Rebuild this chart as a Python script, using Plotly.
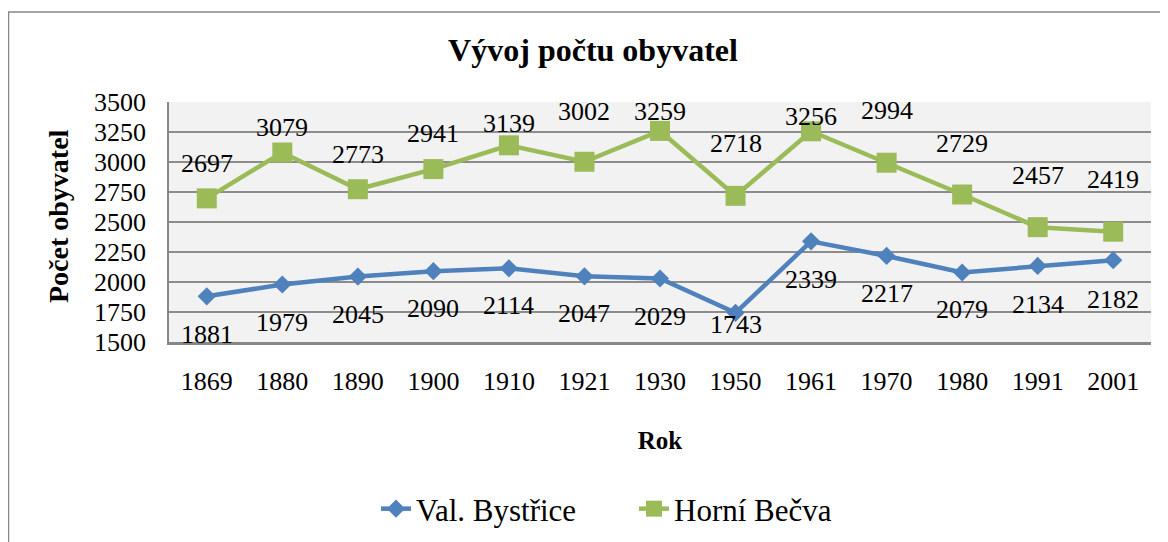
import plotly.graph_objects as go

years = ["1869", "1880", "1890", "1900", "1910", "1921", "1930", "1950", "1961", "1970", "1980", "1991", "2001"]
val_bystrice = [1881, 1979, 2045, 2090, 2114, 2047, 2029, 1743, 2339, 2217, 2079, 2134, 2182]
horni_becva = [2697, 3079, 2773, 2941, 3139, 3002, 3259, 2718, 3256, 2994, 2729, 2457, 2419]
y_ticks = [1500, 1750, 2000, 2250, 2500, 2750, 3000, 3250, 3500]

# label offsets in px (styling, not data)
green_label_shift = [35, 25, 35, 36, 22, 50, 19, 52, 15, 52, 51, 52, 52]
blue_label_shift = [-38, -38, -38, -37, -37, -37, -38, -12, -38, -38, -37, -39, -39]

BLUE = "#4F81BD"
GREEN = "#9BBB59"
FONT = "Liberation Serif"

# page body has an 8px margin; the figure is sized/positioned to compensate
W, H = 1160, 534
PL, PR, PT, PB = 161, 1143, 94, 334  # plot area in figure px
PW, PHt = PR - PL, PB - PT

fig = go.Figure()
fig.add_trace(go.Scatter(
    x=years, y=val_bystrice, name="Val. Bystřice", mode="lines+markers",
    line=dict(color=BLUE, width=4.5),
    marker=dict(symbol="diamond", size=14, color=BLUE),
))
fig.add_trace(go.Scatter(
    x=years, y=horni_becva, name="Horní Bečva", mode="lines+markers",
    line=dict(color=GREEN, width=4.5),
    marker=dict(symbol="square", size=20, color=GREEN),
))

ann = []
for i, (v, s) in enumerate(zip(horni_becva, green_label_shift)):
    ann.append(dict(x=i, y=v, xref="x", yref="y", text=str(v), showarrow=False,
                    yshift=s, font=dict(family=FONT, size=26, color="black")))
for i, (v, s) in enumerate(zip(val_bystrice, blue_label_shift)):
    ann.append(dict(x=i, y=v, xref="x", yref="y", text=str(v), showarrow=False,
                    yshift=s, font=dict(family=FONT, size=26, color="black")))
# y-axis title
ann.append(dict(x=(50 - PL) / PW, y=(PB - 208) / PHt, xref="paper", yref="paper",
                text="Počet obyvatel", textangle=-90, showarrow=False,
                xanchor="center", yanchor="middle",
                font=dict(family=FONT, size=28, weight=700, color="black")))

fig.update_layout(
    width=W, height=H,
    margin=dict(l=PL, r=W - PR, t=PT, b=H - PB, autoexpand=False),
    paper_bgcolor="white", plot_bgcolor="#F2F2F2",
    font=dict(family=FONT, color="black", size=26),
    title=dict(text="Vývoj počtu obyvatel", x=585/W, xanchor="center",
               y=1-42/H, yanchor="middle", yref="container",
               font=dict(family=FONT, size=32, weight=700, color="black")),
    annotations=ann,
    showlegend=True,
    legend=dict(orientation="h", x=(368-PL)/PW, xanchor="left",
                y=(PB-501)/PHt, yanchor="middle",
                font=dict(family=FONT, size=31, color="black"),
                entrywidth=213,
                bgcolor="rgba(0,0,0,0)"),
    shapes=[dict(type="rect", xref="paper", yref="paper",
                 x0=(0.5-PL)/PW, x1=(W+20-PL)/PW,
                 y0=-(H+20-PB)/PHt, y1=(PB-4)/PHt,
                 line=dict(color="#878787", width=1.5), layer="below")],
)
fig.update_xaxes(
    type="category", showgrid=False, showline=True, linecolor="#878787", linewidth=2.5,
    mirror=False, ticks="", ticklabelstandoff=14,
    tickfont=dict(family=FONT, size=26),
    title=dict(text="Rok", standoff=37, font=dict(family=FONT, size=25, weight=700)),
    range=[-0.5, len(years)-0.5],
)
fig.update_yaxes(
    range=[1500, 3500], tickvals=y_ticks, showgrid=True, gridcolor="#8C8C8C", gridwidth=1.5,
    showline=True, linecolor="#878787", linewidth=1.5, zeroline=False, ticks="",
    ticklabelstandoff=16, tickfont=dict(family=FONT, size=26),
)
fig.write_html("out.html")
